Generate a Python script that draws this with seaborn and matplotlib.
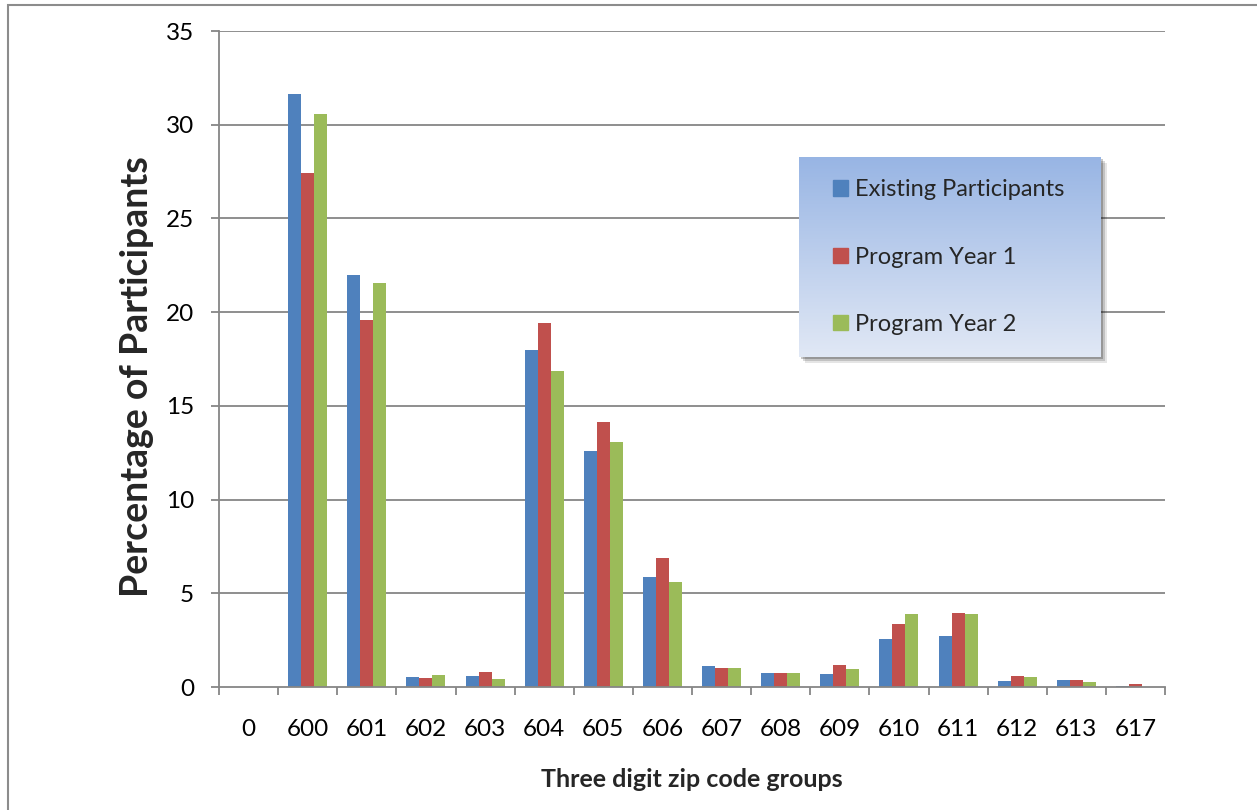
import matplotlib
matplotlib.use("Agg")
import matplotlib.pyplot as plt
import matplotlib.patches as mpatches
import numpy as np
import pandas as pd
import seaborn as sns

# Data
zip_groups = ["0", "600", "601", "602", "603", "604", "605", "606",
              "607", "608", "609", "610", "611", "612", "613", "617"]
existing = [0, 31.64, 21.98, 0.55, 0.60, 17.98, 12.60, 5.87,
            1.12, 0.73, 0.68, 2.55, 2.73, 0.34, 0.36, 0.05]
year1 = [0, 27.40, 19.58, 0.46, 0.78, 19.40, 14.16, 6.87,
         1.00, 0.76, 1.16, 3.36, 3.95, 0.57, 0.37, 0.14]
year2 = [0, 30.55, 21.55, 0.62, 0.45, 16.86, 13.07, 5.62,
         1.00, 0.75, 0.98, 3.90, 3.90, 0.52, 0.25, 0.0]
series_names = ["Existing Participants", "Program Year 1", "Program Year 2"]
colors = ["#4f81bd", "#c0504d", "#9bbb59"]

df = pd.DataFrame({
    "Zip": zip_groups * 3,
    "Series": np.repeat(series_names, len(zip_groups)),
    "Percent": existing + year1 + year2,
})

sns.set_theme(style="white")
plt.rcParams["font.family"] = ["Lato", "DejaVu Sans"]

W, H = 1257, 810
fig = plt.figure(figsize=(W / 100, H / 100), dpi=100)
ax = fig.add_axes([219 / W, 1 - 687 / H, (1165 - 219) / W, (687 - 31) / H])

sns.barplot(data=df, x="Zip", y="Percent", hue="Series", order=zip_groups,
            hue_order=series_names, palette=colors, width=0.66, gap=0,
            linewidth=0, saturation=1, ax=ax, legend=False)

grid_c = "#868686"
ax.set_ylim(0, 35)
ax.set_xlim(-0.5, len(zip_groups) - 0.5)
ax.set_yticks(range(0, 36, 5))
for v in range(5, 36, 5):
    ax.axhline(v, color=grid_c, lw=1.3, zorder=0)
ax.set_xticks(np.arange(-0.5, len(zip_groups)), minor=True)
ax.tick_params(axis="x", which="major", length=0, pad=23, labelsize=17.5, colors="black")
ax.tick_params(axis="x", which="minor", length=6, width=1.3, color=grid_c, direction="out", bottom=True)
ax.tick_params(axis="y", length=6, width=1.3, color=grid_c, direction="out", left=True,
               pad=12, labelsize=17.5, labelcolor="black")
for s in ["top", "right"]:
    ax.spines[s].set_visible(False)
for s in ["left", "bottom"]:
    ax.spines[s].set_color(grid_c)
    ax.spines[s].set_linewidth(1.3)

ax.set_xlabel("Three digit zip code groups", fontsize=18, fontweight="bold")
ax.set_ylabel("Percentage of Participants", fontsize=27, fontweight="bold")
ax.yaxis.set_label_coords(-0.069, 0.473)
ax.xaxis.set_label_coords(0.5, -0.123)

# outer chart frame
fig.add_artist(mpatches.Rectangle((8 / W, -0.02), 1.05, 1 - 5 / H + 0.02,
                                  transform=fig.transFigure, fill=False,
                                  edgecolor="#8c8c8c", lw=1.5, clip_on=False))

# legend box with gradient and shadow
lx0, lx1, ly0, ly1 = 799, 1101, 157, 357
for i, a in enumerate([0.10, 0.15, 0.22]):
    off = 6 - i * 2
    fig.add_artist(mpatches.Rectangle(((lx0 + off) / W, 1 - (ly1 + off) / H),
                                      (lx1 - lx0) / W, (ly1 - ly0) / H,
                                      transform=fig.transFigure, color="black",
                                      alpha=a, lw=0, zorder=2))
lax = fig.add_axes([lx0 / W, 1 - ly1 / H, (lx1 - lx0) / W, (ly1 - ly0) / H], zorder=3)
top_c = np.array([0.596, 0.710, 0.894])
bot_c = np.array([0.882, 0.910, 0.961])
t = np.linspace(0, 1, 200)[:, None]
grad = (top_c * (1 - t) + bot_c * t)[:, None, :]
lax.imshow(grad, aspect="auto", extent=[0, 1, 0, 1])
lax.set_axis_off()

handles = [mpatches.Patch(color=c, label=n) for c, n in zip(colors, series_names)]
leg = fig.legend(handles=handles, loc="center left",
                 bbox_to_anchor=(814 / W, 1 - 257 / H), frameon=False,
                 fontsize=17, labelspacing=1.95, handlelength=0.62,
                 handleheight=0.62, handletextpad=0.3, borderpad=0.3)
leg.set_zorder(5)

fig.savefig("out.png", dpi=100)
